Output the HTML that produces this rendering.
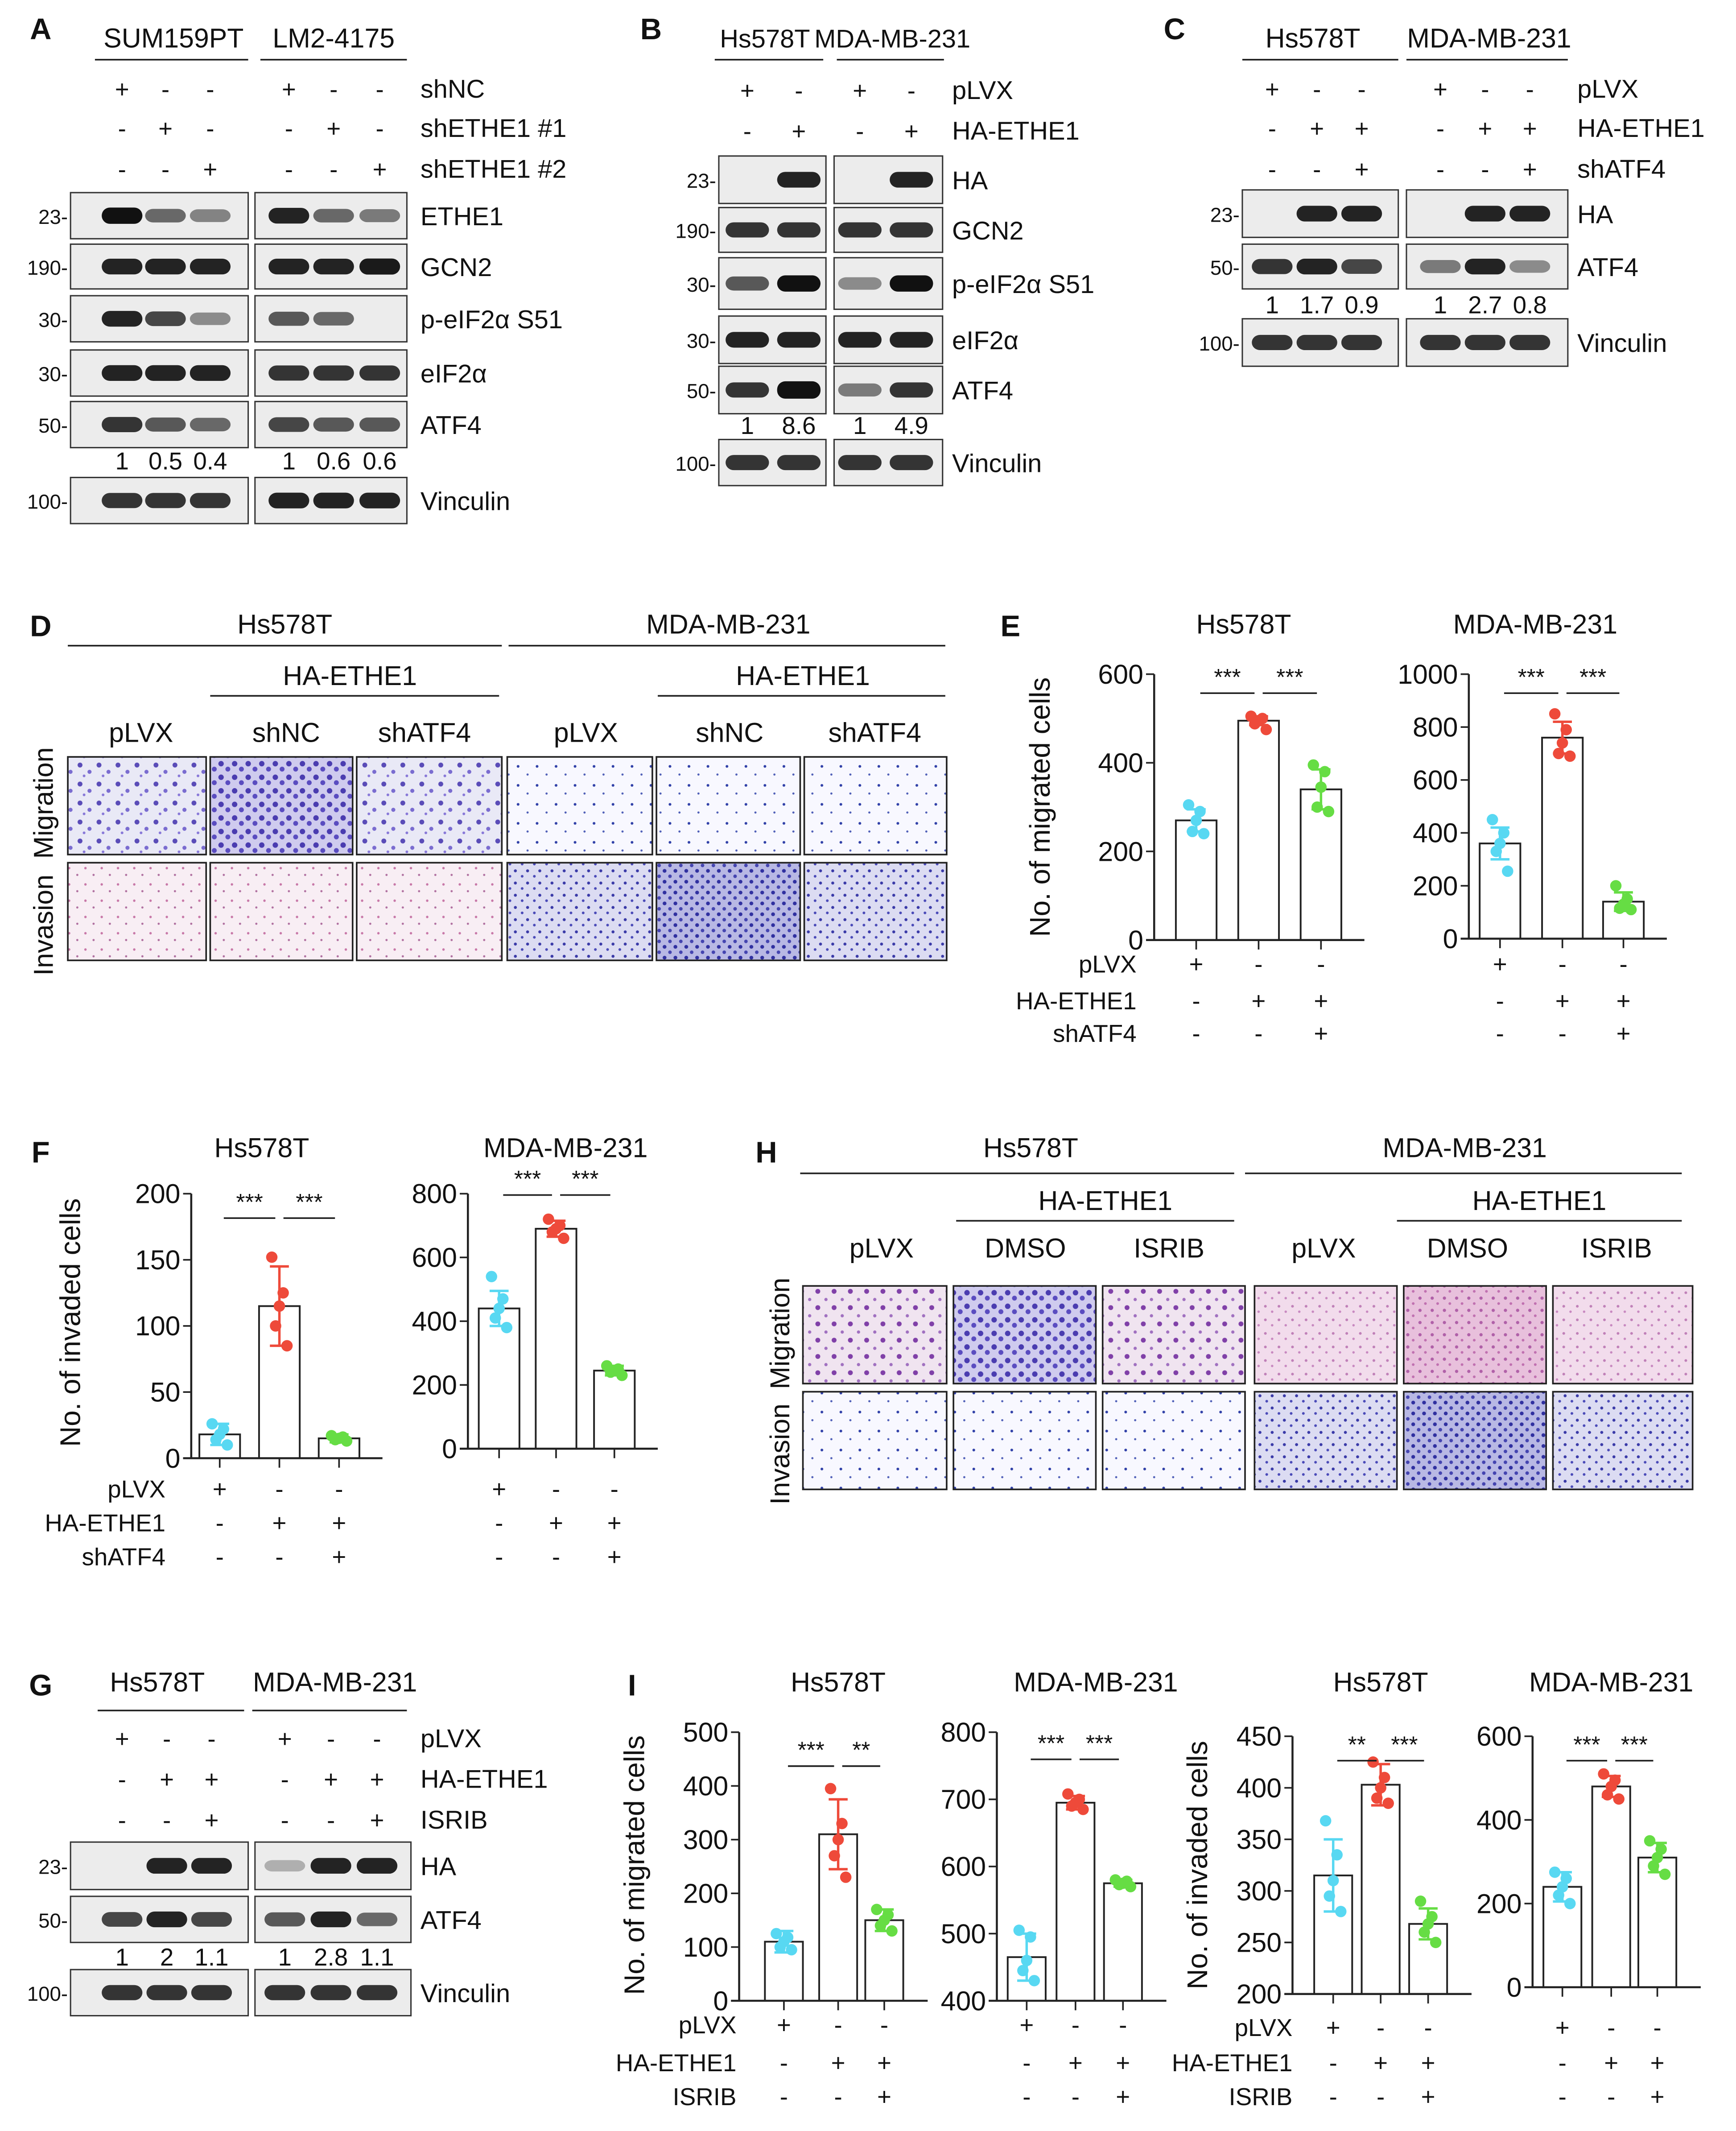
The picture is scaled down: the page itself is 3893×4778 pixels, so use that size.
<!DOCTYPE html>
<html><head><meta charset="utf-8"><style>
html,body{margin:0;padding:0;background:#fff;}
svg{display:block;font-family:"Liberation Sans",Arial,sans-serif;}
</style></head><body>
<svg id="fig" xmlns="http://www.w3.org/2000/svg" width="3893" height="4778" viewBox="0 0 1280 1571" preserveAspectRatio="none">
<defs>
<pattern id="pPurple" width="14" height="14" patternUnits="userSpaceOnUse"><rect width="14" height="14" fill="#e9e9f6"/><circle cx="3" cy="4" r="1.8" fill="#5a4cb8"/><circle cx="10" cy="9" r="1.5" fill="#7a6cd0"/><circle cx="6" cy="12" r="1" fill="#8878d8"/></pattern>
<pattern id="pPurpleD" width="10" height="10" patternUnits="userSpaceOnUse"><rect width="10" height="10" fill="#cfcbee"/><circle cx="3" cy="3" r="2" fill="#4a3cb0"/><circle cx="8" cy="7" r="1.8" fill="#5a4cc0"/></pattern>
<pattern id="pPink" width="12" height="12" patternUnits="userSpaceOnUse"><rect width="12" height="12" fill="#f8eef4"/><circle cx="3" cy="4" r="0.9" fill="#c878a8"/><circle cx="9" cy="9" r="0.8" fill="#b070a0"/></pattern>
<pattern id="pBlueS" width="14" height="14" patternUnits="userSpaceOnUse"><rect width="14" height="14" fill="#f8f8ff"/><circle cx="4" cy="5" r="1" fill="#3040a8"/><circle cx="11" cy="11" r="0.8" fill="#5060b8"/></pattern>
<pattern id="pBlueD" width="8" height="8" patternUnits="userSpaceOnUse"><rect width="8" height="8" fill="#b8b8e4"/><circle cx="2" cy="2" r="1.4" fill="#3030a0"/><circle cx="6" cy="6" r="1.3" fill="#4444b0"/></pattern>
<pattern id="pBlueM" width="9" height="9" patternUnits="userSpaceOnUse"><rect width="9" height="9" fill="#dcdcf2"/><circle cx="2" cy="3" r="1.1" fill="#3a3aa8"/><circle cx="7" cy="7" r="1" fill="#4a4ab8"/></pattern>
<pattern id="pMag" width="9" height="9" patternUnits="userSpaceOnUse"><rect width="9" height="9" fill="#e8c0dc"/><circle cx="3" cy="3" r="1.2" fill="#b060a8"/><circle cx="7" cy="7" r="1" fill="#c070b0"/></pattern>
<pattern id="pMagL" width="10" height="10" patternUnits="userSpaceOnUse"><rect width="10" height="10" fill="#f2dcec"/><circle cx="3" cy="3" r="1" fill="#c080b8"/><circle cx="8" cy="7" r="0.9" fill="#c888c0"/></pattern>
<pattern id="pHsMig" width="12" height="12" patternUnits="userSpaceOnUse"><rect width="12" height="12" fill="#f0e4f0"/><circle cx="3" cy="4" r="1.8" fill="#8040a8"/><circle cx="9" cy="10" r="1.2" fill="#a070c0"/></pattern>
</defs>
<g id="root"></g>
</svg>
<script>
// ---------- chart data ----------
const eHsCats=["pLVX","HA-ETHE1","HA-ETHE1+shATF4"];
const eHsVals=[270,495,340];
const eHsErr=[25,10,45];
const eHsPts=[[240,245,270,290,305],[475,488,495,500,505],[290,300,345,380,395]];
const eHsTicks=[0,200,400,600];
const eMdVals=[360,760,140];
const eMdErr=[60,60,35];
const eMdPts=[[255,330,360,400,450],[690,700,740,790,850],[110,115,130,150,200]];
const eMdTicks=[0,200,400,600,800,1000];
const fHsVals=[18,115,15];
const fHsErr=[8,30,3];
const fHsPts=[[10,14,18,22,26],[85,100,115,125,152],[13,14,15,16,17]];
const fHsTicks=[0,50,100,150,200];
const fMdVals=[440,690,245];
const fMdErr=[55,25,15];
const fMdPts=[[380,410,440,470,540],[660,680,690,700,720],[230,240,245,250,260]];
const fMdTicks=[0,200,400,600,800];
const iMigHsVals=[110,310,150];
const iMigHsErr=[20,65,20];
const iMigHsPts=[[95,100,110,118,125],[230,270,300,330,395],[130,140,150,160,170]];
const iMigHsTicks=[0,100,200,300,400,500];
const iMigMdVals=[465,695,575];
const iMigMdErr=[35,10,5];
const iMigMdPts=[[430,445,460,495,505],[685,690,695,700,708],[570,573,575,578,580]];
const iMigMdTicks=[400,500,600,700,800];
const iInvHsVals=[315,403,268];
const iInvHsErr=[35,20,15];
const iInvHsPts=[[280,295,310,335,368],[385,390,400,410,425],[250,260,268,275,290]];
const iInvHsTicks=[200,250,300,350,400,450];
const iInvMdVals=[240,480,310];
const iInvMdErr=[35,25,35];
const iInvMdPts=[[200,220,240,260,275],[450,460,480,495,510],[270,290,310,330,350]];
const iInvMdTicks=[0,200,400,600];

const NS="http://www.w3.org/2000/svg";
const root=document.getElementById('root');
function mk(tag,attrs,parent){const n=document.createElementNS(NS,tag);for(const k in attrs)n.setAttribute(k,attrs[k]);(parent||root).appendChild(n);return n;}
function txt(x,y,s,size,name,anchor,weight,rot){
  const t=mk('text',{x:x,y:y,'font-size':size||18,'text-anchor':anchor||'middle',fill:'#111'});
  if(weight)t.setAttribute('font-weight',weight);
  if(rot)t.setAttribute('transform','rotate(-90 '+x+' '+y+')');
  t.textContent=s;
  
  
  return t;
}
function line(x1,y1,x2,y2,name,w){
  const l=mk('line',{x1:x1,y1:y1,x2:x2,y2:y2,stroke:'#222','stroke-width':w||1.2});
  
  
  return l;
}
function signs(xs,y,arr,name){arr.forEach((s,i)=>txt(xs[i],y,s,18,name+'-'+i));}
function blot(x1,x2,y1,y2,xs,ints,name,bw){
  const r=mk('rect',{x:x1,y:y1,width:x2-x1,height:y2-y1,fill:'#ececec',stroke:'#333','stroke-width':1});
  
  
  const cy=(y1+y2)/2;
  xs.forEach((x,i)=>{if(ints[i]<=0)return;
    const b=mk('rect',{x:x-(bw||15),y:cy-4-ints[i]*2,width:2*(bw||15),height:8+ints[i]*4,rx:6,fill:'#111','fill-opacity':Math.min(1,0.2+ints[i]*0.8)});
    
    });
}

// ---------- Panel A ----------
txt(30,29,'A',22,'panel-a-label','middle','bold');
txt(128,35,'SUM159PT',20,'a-header-sum159pt');txt(246,35,'LM2-4175',20,'a-header-lm2');
line(70,44,183,44,'a-header-line');line(192,44,300,44,'a-header-line');
const aX=[90,122,155,213,246,280];
signs(aX,72,['+','-','-','+','-','-'],'a-shnc');signs(aX,101,['-','+','-','-','+','-'],'a-sh1');signs(aX,131,['-','-','+','-','-','+'],'a-sh2');
txt(310,72,'shNC',19,'a-lab-shnc','start');txt(310,101,'shETHE1 #1',19,'a-lab-sh1','start');txt(310,131,'shETHE1 #2',19,'a-lab-sh2','start');
const aRows=[['ETHE1',142,176,'23-',[1,.5,.35,.9,.5,.4]],['GCN2',180,213,'190-',[.9,.9,.9,.9,.9,.95]],['p-eIF2α S51',218,252,'30-',[.9,.7,.3,.6,.5,0]],['eIF2α',258,292,'30-',[.9,.9,.9,.8,.8,.8]],['ATF4',296,330,'50-',[.8,.6,.5,.7,.6,.6]],['Vinculin',352,386,'100-',[.8,.8,.8,.9,.9,.9]]];
aRows.forEach(r=>{blot(52,183,r[1],r[2],aX.slice(0,3),r[4].slice(0,3),'a-blot-'+r[0]);blot(188,300,r[1],r[2],aX.slice(3),r[4].slice(3),'a-blot-'+r[0]);
 txt(310,(r[1]+r[2])/2+7,r[0],19,'a-row-'+r[0],'start');txt(50,(r[1]+r[2])/2+6,r[3],15,'a-mw','end');});
signs(aX,346,['1','0.5','0.4','1','0.6','0.6'],'a-quant');

// ---------- Panel B ----------
txt(480,29,'B',22,'panel-b-label','middle','bold');
txt(564,35,'Hs578T',19,'b-header-hs');txt(658,35,'MDA-MB-231',19,'b-header-mda');
line(527,44,607,44,'b-header-line');line(617,44,696,44,'b-header-line');
const bX=[551,589,634,672];
signs(bX,73,['+','-','+','-'],'b-plvx');signs(bX,103,['-','+','-','+'],'b-ha');
txt(702,73,'pLVX',19,'b-lab-plvx','start');txt(702,103,'HA-ETHE1',19,'b-lab-ha','start');
const bRows=[['HA',115,150,'23-',[0,.9,0,.9]],['GCN2',153,186,'190-',[.8,.8,.8,.8]],['p-eIF2α S51',190,228,'30-',[.6,1,.3,1]],['eIF2α',233,268,'30-',[.9,.9,.9,.9]],['ATF4',270,305,'50-',[.8,1.2,.4,.8]],['Vinculin',324,358,'100-',[.8,.8,.8,.8]]];
bRows.forEach(r=>{blot(530,609,r[1],r[2],bX.slice(0,2),r[4].slice(0,2),'b-blot-'+r[0],16);blot(615,695,r[1],r[2],bX.slice(2),r[4].slice(2),'b-blot-'+r[0],16);
 txt(702,(r[1]+r[2])/2+7,r[0],19,'b-row-'+r[0],'start');txt(528,(r[1]+r[2])/2+6,r[3],15,'b-mw','end');});
signs(bX,320,['1','8.6','1','4.9'],'b-quant');

// ---------- Panel C ----------
txt(866,29,'C',22,'panel-c-label','middle','bold');
txt(968,35,'Hs578T',20,'c-header-hs');txt(1098,35,'MDA-MB-231',20,'c-header-mda');
line(916,44,1031,44,'c-header-line');line(1037,44,1156,44,'c-header-line');
const cX=[938,971,1004,1062,1095,1128];
signs(cX,72,['+','-','-','+','-','-'],'c-plvx');signs(cX,101,['-','+','+','-','+','+'],'c-ha');signs(cX,131,['-','-','+','-','-','+'],'c-shatf4');
txt(1163,72,'pLVX',19,'c-lab-plvx','start');txt(1163,101,'HA-ETHE1',19,'c-lab-ha','start');txt(1163,131,'shATF4',19,'c-lab-shatf4','start');
const cRows=[['HA',140,175,'23-',[0,.9,.9,0,.9,.9]],['ATF4',180,213,'50-',[.8,.9,.7,.4,.9,.3]],['Vinculin',235,270,'100-',[.8,.8,.8,.8,.8,.8]]];
cRows.forEach(r=>{blot(916,1031,r[1],r[2],cX.slice(0,3),r[4].slice(0,3),'c-blot-'+r[0]);blot(1037,1156,r[1],r[2],cX.slice(3),r[4].slice(3),'c-blot-'+r[0]);
 txt(1163,(r[1]+r[2])/2+7,r[0],19,'c-row-'+r[0],'start');txt(914,(r[1]+r[2])/2+6,r[3],15,'c-mw','end');});
signs(cX,231,['1','1.7','0.9','1','2.7','0.8'],'c-quant');

// ---------- micrograph grid ----------
function micro(xs,rows,fills,name){rows.forEach((r,ri)=>xs.forEach((x,ci)=>{
  const m=mk('rect',{x:x[0],y:r[0],width:x[1]-x[0],height:r[1]-r[0],fill:'url(#'+fills[ri][ci]+')',stroke:'#222','stroke-width':1.2});
  
  }));}

// ---------- Panel D ----------
txt(30,469,'D',22,'panel-d-label','middle','bold');
txt(210,467,'Hs578T',20,'d-header-hs');txt(537,467,'MDA-MB-231',20,'d-header-mda');
line(50,476,370,476,'d-line');line(375,476,697,476,'d-line');
txt(258,505,'HA-ETHE1',20,'d-ha-hs');txt(592,505,'HA-ETHE1',20,'d-ha-mda');
line(155,513,368,513,'d-line');line(485,513,697,513,'d-line');
[['pLVX',104],['shNC',211],['shATF4',313],['pLVX',432],['shNC',538],['shATF4',645]].forEach((c,i)=>txt(c[1],547,c[0],20,'d-col-'+i));
txt(39,592,'Migration',20,'d-row-migration','middle',null,true);txt(39,682,'Invasion',20,'d-row-invasion','middle',null,true);
micro([[50,152],[155,260],[263,370],[374,481],[484,590],[593,698]],[[558,630],[636,708]],
 [['pPurple','pPurpleD','pPurple','pBlueS','pBlueS','pBlueS'],['pPink','pPink','pPink','pBlueM','pBlueD','pBlueM']],'d-image');

// ---------- bar chart ----------
function chart(c){
  const sy=v=>c.py0-(v-c.vmin)/(c.vmax-c.vmin)*(c.py0-c.py1);
  txt(c.cx,c.ty,c.title,20,c.name+'-title');
  line(c.ax,c.py1,c.ax,c.py0,c.name+'-y-axis',1.5);
  line(c.ax-6,c.py0,c.xs[2]+32,c.py0,c.name+'-x-axis',1.5);
  c.ticks.forEach(t=>{line(c.ax-6,sy(t),c.ax,sy(t),c.name+'-tick');txt(c.ax-8,sy(t)+7,String(t),20,c.name+'-tick-label','end');});
  c.xs.forEach(x=>line(x,c.py0,x,c.py0+7,c.name+'-xtick'));
  const cols=['#58d8f2','#ee4a3a','#66dd44'];
  c.vals.forEach((v,i)=>{
    const b=mk('rect',{x:c.xs[i]-c.bw/2,y:sy(v),width:c.bw,height:c.py0-sy(v),fill:'none',stroke:'#222','stroke-width':1.3});
    
    
    c.pts[i].forEach((p,j)=>{const d=mk('circle',{cx:c.xs[i]+[-8,-4,0,4,8][j]*(j%2?1:-1)*0.7,cy:sy(p),r:4.2,fill:cols[i]});
      
      });
    const e=mk('path',{d:'M'+c.xs[i]+' '+sy(v+c.err[i])+'V'+sy(v-c.err[i])+'M'+(c.xs[i]-7)+' '+sy(v+c.err[i])+'h14M'+(c.xs[i]-7)+' '+sy(v-c.err[i])+'h14',stroke:cols[i],'stroke-width':1.8,fill:'none'});
    
    
  });
  c.sig.forEach((s,i)=>{const x1=c.xs[i]+3,x2=c.xs[i+1]-3;line(x1,c.sigy,x2,c.sigy,c.name+'-sig-line');txt((x1+x2)/2,c.sigy-6,s,17,c.name+'-sig-'+i);});
  c.rows.forEach((r,ri)=>{if(r[0])txt(c.labx,r[1]+6,r[0],18,c.name+'-cond-'+ri,'end');signs(c.xs,r[1]+6,r[2],c.name+'-sign'+ri);});
  if(c.ytitle)txt(c.ytx,c.yty,c.ytitle,21,c.name+'-y-title','middle',null,true);
}
txt(745,469,'E',22,'panel-e-label','middle','bold');
const rowsE=[['pLVX',711,['+','-','-']],['HA-ETHE1',738,['-','+','+']],['shATF4',762,['-','-','+']]];
chart({name:'e-hs',title:'Hs578T',cx:917,ty:467,ax:851,py0:693,py1:497,vmin:0,vmax:600,ticks:eHsTicks,xs:[882,928,974],bw:30,vals:eHsVals,err:eHsErr,pts:eHsPts,sig:['***','***'],sigy:511,rows:rowsE,labx:838,ytitle:'No. of migrated cells',ytx:774,yty:595});
chart({name:'e-mda',title:'MDA-MB-231',cx:1132,ty:467,ax:1083,py0:692,py1:497,vmin:0,vmax:1000,ticks:eMdTicks,xs:[1106,1152,1197],bw:30,vals:eMdVals,err:eMdErr,pts:eMdPts,sig:['***','***'],sigy:511,rows:rowsE.map(r=>[null,r[1],r[2]]),labx:0});
txt(30,857,'F',22,'panel-f-label','middle','bold');
const rowsF=[['pLVX',1098,['+','-','-']],['HA-ETHE1',1123,['-','+','+']],['shATF4',1148,['-','-','+']]];
chart({name:'f-hs',title:'Hs578T',cx:193,ty:853,ax:141,py0:1075,py1:880,vmin:0,vmax:200,ticks:fHsTicks,xs:[162,206,250],bw:30,vals:fHsVals,err:fHsErr,pts:fHsPts,sig:['***','***'],sigy:898,rows:rowsF,labx:122,ytitle:'No. of invaded cells',ytx:59,yty:975});
chart({name:'f-mda',title:'MDA-MB-231',cx:417,ty:853,ax:345,py0:1068,py1:880,vmin:0,vmax:800,ticks:fMdTicks,xs:[368,410,453],bw:30,vals:fMdVals,err:fMdErr,pts:fMdPts,sig:['***','***'],sigy:881,rows:rowsF.map(r=>[null,r[1],r[2]]),labx:0});

// ---------- Panel H ----------
txt(565,857,'H',22,'panel-h-label','middle','bold');
txt(760,853,'Hs578T',20,'h-header-hs');txt(1080,853,'MDA-MB-231',20,'h-header-mda');
line(590,865,910,865,'h-line');line(918,865,1240,865,'h-line');
txt(815,892,'HA-ETHE1',20,'h-ha-hs');txt(1135,892,'HA-ETHE1',20,'h-ha-mda');
line(705,900,910,900,'h-line');line(1030,900,1240,900,'h-line');
[['pLVX',650],['DMSO',756],['ISRIB',862],['pLVX',976],['DMSO',1082],['ISRIB',1192]].forEach((c,i)=>txt(c[1],927,c[0],20,'h-col-'+i));
txt(582,983,'Migration',20,'h-row-migration','middle',null,true);txt(582,1072,'Invasion',20,'h-row-invasion','middle',null,true);
micro([[592,698],[703,808],[813,918],[925,1030],[1035,1140],[1145,1248]],[[948,1020],[1026,1098]],
 [['pHsMig','pPurpleD','pHsMig','pMagL','pMag','pMagL'],['pBlueS','pBlueS','pBlueS','pBlueM','pBlueD','pBlueM']],'h-image');

// ---------- Panel G ----------
txt(30,1250,'G',22,'panel-g-label','middle','bold');
txt(116,1247,'Hs578T',20,'g-header-hs');txt(247,1247,'MDA-MB-231',20,'g-header-mda');
line(72,1261,180,1261,'g-header-line');line(186,1261,300,1261,'g-header-line');
const gX=[90,123,156,210,244,278];
signs(gX,1288,['+','-','-','+','-','-'],'g-plvx');signs(gX,1318,['-','+','+','-','+','+'],'g-ha');signs(gX,1348,['-','-','+','-','-','+'],'g-isrib');
txt(310,1288,'pLVX',19,'g-lab-plvx','start');txt(310,1318,'HA-ETHE1',19,'g-lab-ha','start');txt(310,1348,'ISRIB',19,'g-lab-isrib','start');
const gRows=[['HA',1358,1393,'23-',[0,.9,.9,.1,.9,.9]],['ATF4',1398,1432,'50-',[.7,.9,.7,.6,.9,.5]],['Vinculin',1452,1486,'100-',[.8,.8,.8,.8,.8,.8]]];
gRows.forEach(r=>{blot(52,183,r[1],r[2],gX.slice(0,3),r[4].slice(0,3),'g-blot-'+r[0]);blot(188,303,r[1],r[2],gX.slice(3),r[4].slice(3),'g-blot-'+r[0]);
 txt(310,(r[1]+r[2])/2+7,r[0],19,'g-row-'+r[0],'start');txt(50,(r[1]+r[2])/2+6,r[3],15,'g-mw','end');});
signs(gX,1449,['1','2','1.1','1','2.8','1.1'],'g-quant');

// ---------- Panel I ----------
txt(466,1250,'I',22,'panel-i-label','middle','bold');
const rowsI=[['pLVX',1493,['+','-','-']],['HA-ETHE1',1521,['-','+','+']],['ISRIB',1546,['-','-','+']]];
chart({name:'i-mig-hs',title:'Hs578T',cx:618,ty:1247,ax:545,py0:1475,py1:1277,vmin:0,vmax:500,ticks:iMigHsTicks,xs:[578,618,652],bw:28,vals:iMigHsVals,err:iMigHsErr,pts:iMigHsPts,sig:['***','**'],sigy:1302,rows:rowsI,labx:543,ytitle:'No. of migrated cells',ytx:475,yty:1375});
chart({name:'i-mig-mda',title:'MDA-MB-231',cx:808,ty:1247,ax:735,py0:1475,py1:1277,vmin:400,vmax:800,ticks:iMigMdTicks,xs:[757,793,828],bw:28,vals:iMigMdVals,err:iMigMdErr,pts:iMigMdPts,sig:['***','***'],sigy:1297,rows:rowsI.map(r=>[null,r[1],r[2]]),labx:0});
const rowsI2=[['pLVX',1495,['+','-','-']],['HA-ETHE1',1521,['-','+','+']],['ISRIB',1546,['-','-','+']]];
chart({name:'i-inv-hs',title:'Hs578T',cx:1018,ty:1247,ax:953,py0:1470,py1:1280,vmin:200,vmax:450,ticks:iInvHsTicks,xs:[983,1018,1053],bw:28,vals:iInvHsVals,err:iInvHsErr,pts:iInvHsPts,sig:['**','***'],sigy:1298,rows:rowsI2,labx:953,ytitle:'No. of invaded cells',ytx:890,yty:1375});
chart({name:'i-inv-mda',title:'MDA-MB-231',cx:1188,ty:1247,ax:1130,py0:1465,py1:1280,vmin:0,vmax:600,ticks:iInvMdTicks,xs:[1152,1188,1222],bw:28,vals:iInvMdVals,err:iInvMdErr,pts:iInvMdPts,sig:['***','***'],sigy:1298,rows:rowsI2.map(r=>[null,r[1],r[2]]),labx:0});
</script>
</body></html>
